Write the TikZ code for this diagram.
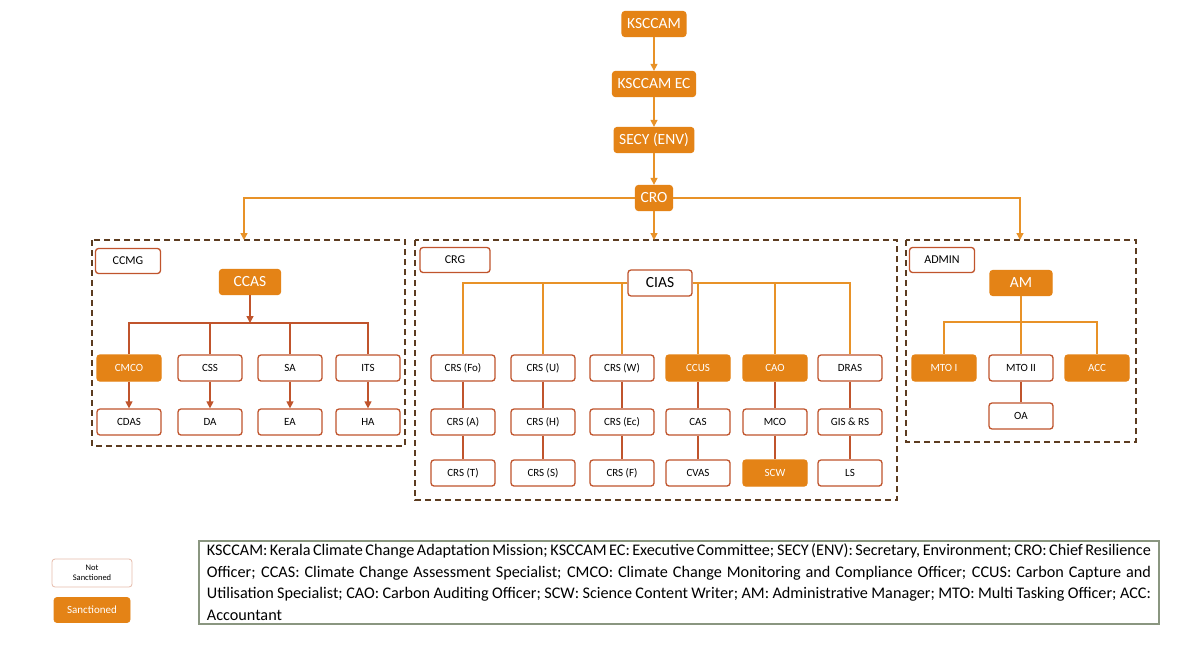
\documentclass[tikz,border=0pt]{standalone}
\usepackage{fontspec}
\setmainfont{Carlito}
\usetikzlibrary{arrows.meta}
\definecolor{orng}{RGB}{228,131,22}
\definecolor{rust}{RGB}{192,84,44}
\definecolor{lineo}{RGB}{232,146,40}
\definecolor{dbrown}{RGB}{92,60,32}
\definecolor{boxgrey}{RGB}{138,150,128}
\tikzset{%
    ns/.style={draw=rust,fill=white,rounded corners=3pt,line width=1.3pt,
      minimum width=64pt,minimum height=26pt,font=\fontsize{11}{12}\selectfont,inner sep=1pt},
    sn/.style={ns,draw=orng,fill=orng,text=white},
    topbox/.style={sn,minimum height=25pt,font=\fontsize{15.5}{16}\selectfont,inner xsep=5pt,minimum width=0pt},
    group/.style={draw=dbrown,dashed,line width=1.6pt,dash pattern=on 6pt off 4pt}
}
\begin{document}
\begin{tikzpicture}[x=1pt,y=-1pt,>={Triangle[length=7pt,width=7pt]},
  lo/.style={draw=lineo,line width=1.4pt},
  lr/.style={draw=rust,line width=1.4pt}]
  \useasboundingbox[fill=white] (0,0) rectangle (1192,646);

  % top chain
  \node[topbox] (ksccam) at (654,24) {KSCCAM};
  \node[topbox] (ec) at (654,84) {KSCCAM EC};
  \node[topbox] (secy) at (654,140) {SECY (ENV)};
  \node[topbox] (cro) at (654,198) {CRO};
  \draw[lo,->] (ksccam) -- (ec);
  \draw[lo,->] (ec) -- (secy);
  \draw[lo,->] (secy) -- (cro);

  % groups
  \draw[group] (92,240) rectangle (405,446);
  \draw[group] (415,240) rectangle (897,500);
  \draw[group] (906,240) rectangle (1136,442);
  \coordinate (g1) at (244,240);
  \coordinate (g2) at (654,240);
  \coordinate (g3) at (1020,240);
  \draw[lo,->] (cro) -| (g1);
  \draw[lo,->] (cro) -| (g3);
  \draw[lo,->] (cro) -- (g2);

  % CCMG
  \node[ns,minimum width=65pt,minimum height=25pt,font=\fontsize{12}{13}\selectfont] (ccmg) at (128,261) {CCMG};
  \node[topbox,minimum width=61pt] (ccas) at (250,282) {CCAS};
  \coordinate (bus1) at (250,323);
  \draw[lr,->] (ccas) -- (bus1);
  \foreach \n/\x/\s/\m in {cmco/129/sn/CMCO,css/210/ns/CSS,sa/290/ns/SA,its/368/ns/ITS}{
    \node[\s] (\n) at (\x,368) {\m};
    \draw[lr] (bus1) -| (\n);
  }
  \foreach \a/\n/\x/\m in {cmco/cdas/129/CDAS,css/da/210/DA,sa/ea/290/EA,its/ha/368/HA}{
    \node[ns] (\n) at (\x,422) {\m};
    \draw[lr,->] (\a) -- (\n);
  }

  % CRG
  \node[ns,minimum width=70pt,minimum height=25pt,font=\fontsize{12}{13}\selectfont] (crg) at (455,260) {CRG};
  \node[ns,minimum width=64pt,minimum height=26pt,font=\fontsize{15.5}{16}\selectfont] (cias) at (660,283) {CIAS};
  \foreach \c/\x/\sa/\ta/\sb/\tb/\sc/\tc in {
    1/463/ns/CRS (Fo)/ns/CRS (A)/ns/CRS (T),
    2/543/ns/CRS (U)/ns/CRS (H)/ns/CRS (S),
    3/622/ns/CRS (W)/ns/CRS (Ec)/ns/CRS (F),
    4/698/sn/CCUS/ns/CAS/ns/CVAS,
    5/775/sn/CAO/ns/MCO/sn/SCW,
    6/850/ns/DRAS/ns/GIS \& RS/ns/LS}{
    \node[\sa] (r\c a) at (\x,368) {\ta};
    \node[\sb] (r\c b) at (\x,422) {\tb};
    \node[\sc] (r\c c) at (\x,473) {\tc};
    \draw[lo] (cias) -| (r\c a);
    \draw[lr] (r\c a) -- (r\c b);
    \draw[lr] (r\c b) -- (r\c c);
  }

  % ADMIN
  \node[ns,minimum width=65pt,minimum height=25pt,font=\fontsize{12}{13}\selectfont] (admin) at (942,260) {ADMIN};
  \node[topbox,minimum width=62pt] (am) at (1021,283) {AM};
  \coordinate (bus3) at (1021,322);
  \draw[lo] (am) -- (bus3);
  \foreach \n/\x/\s/\m in {mtoi/944/sn/MTO I,mtoii/1021/ns/MTO II,acc/1097/sn/ACC}{
    \node[\s] (\n) at (\x,368) {\m};
    \draw[lo] (bus3) -| (\n);
  }
  \node[ns] (oa) at (1021,416) {OA};
  \draw[lr] (mtoii) -- (oa);

  % legend
  \node[ns,draw=rust!40,line width=0.8pt,minimum width=80pt,minimum height=28pt,
    align=center,font=\fontsize{8.5}{9.5}\selectfont] (notsan) at (92,573) {Not\\Sanctioned};
  \node[sn,line width=0.8pt,minimum width=76pt,minimum height=25pt] (san) at (92,610) {Sanctioned};
  \node[draw=boxgrey,line width=1.8pt,text width=944pt,align=justify,
    inner xsep=8pt,inner ysep=3pt,font=\fontsize{16.2}{21.6}\selectfont,anchor=north west] (abbr) at (198,540)
    {\hyphenpenalty=10000\exhyphenpenalty=10000 KSCCAM: Kerala Climate Change Adaptation Mission; KSCCAM EC: Executive Committee; SECY (ENV): Secretary, Environment; CRO: Chief Resilience Officer; CCAS: Climate Change Assessment Specialist; CMCO: Climate Change Monitoring and Compliance Officer; CCUS: Carbon Capture and Utilisation Specialist; CAO: Carbon Auditing Officer; SCW: Science Content Writer; AM: Administrative Manager; MTO: Multi Tasking Officer; ACC: Accountant};
\end{tikzpicture}
\end{document}
